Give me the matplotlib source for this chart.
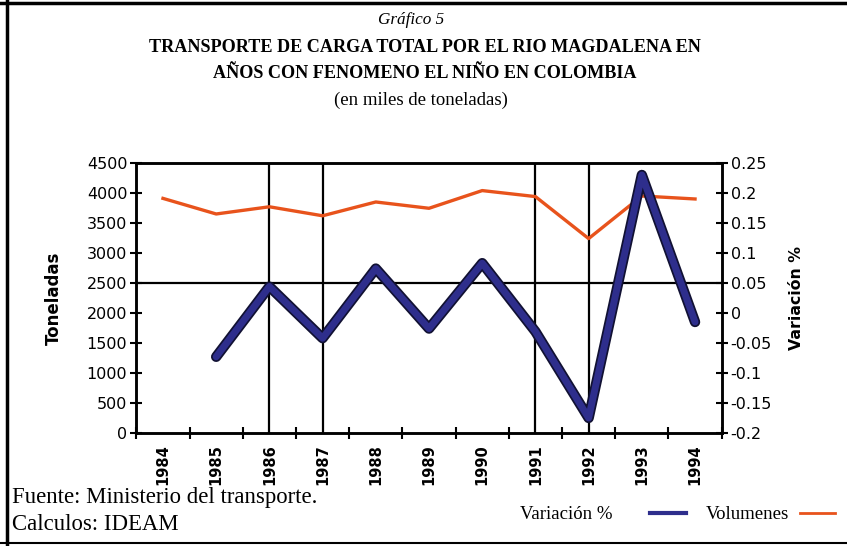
import matplotlib
matplotlib.use("Agg")
import matplotlib.pyplot as plt
from matplotlib.lines import Line2D

years = ["1984", "1985", "1986", "1987", "1988", "1989",
         "1990", "1991", "1992", "1993", "1994"]
volumenes = [3910, 3650, 3770, 3620, 3850, 3745, 4040, 3940, 3240, 3950, 3900]
variacion = [None, -0.073, 0.044, -0.042, 0.074, -0.026, 0.083, -0.031,
             -0.175, 0.230, -0.015]
nino_years = ["1986", "1987", "1991", "1992"]
ref_level = 2500

serif = "Liberation Serif"
sans = "DejaVu Sans"
blue = "#2e2e8c"
orange = "#e8531c"

fig = plt.figure(figsize=(8.47, 5.46), dpi=100)
ax = fig.add_axes([0.161, 0.207, 0.691, 0.4945])
ax2 = ax.twinx()

x = list(range(len(years)))
ax.plot(x, volumenes, color=orange, lw=2.4, zorder=4)

vx = [i for i, v in zip(x, variacion) if v is not None]
vy = [v for v in variacion if v is not None]
ax2.plot(vx, vy, color="#111133", lw=7.5, solid_capstyle="round",
         solid_joinstyle="round", zorder=3)
ax2.plot(vx, vy, color=blue, lw=5, solid_capstyle="round",
         solid_joinstyle="round", zorder=4)

for yr in nino_years:
    ax.axvline(years.index(yr), color="black", lw=1.6, zorder=2)
ax.axhline(ref_level, color="black", lw=1.6, zorder=2)

ax.set_xlim(-0.5, len(years) - 0.5)
ax.set_ylim(0, 4500)
ax.set_yticks(range(0, 4501, 500))
ax2.set_ylim(-0.2, 0.25)
ax2.set_yticks([-0.2, -0.15, -0.1, -0.05, 0, 0.05, 0.1, 0.15, 0.2, 0.25])
ax2.set_yticklabels(["-0.2", "-0.15", "-0.1", "-0.05", "0", "0.05", "0.1",
                     "0.15", "0.2", "0.25"])

ax.set_xticks([i - 0.5 for i in range(len(years) + 1)])
ax.set_xticklabels([])
ax.set_xticks(x, minor=True)
ax.set_xticklabels(years, minor=True, rotation=90, fontsize=10.5,
                   fontweight="bold", family=sans)
ax.tick_params(axis="x", which="minor", length=0, pad=8)
ax.tick_params(axis="x", which="major", direction="inout", length=9, width=1.5)
ax.tick_params(axis="y", direction="inout", length=9, width=1.5,
               labelsize=11.5, pad=2)
ax2.tick_params(axis="y", direction="inout", length=9, width=1.5,
                labelsize=11.5, pad=2)
for lab in ax.get_yticklabels() + ax2.get_yticklabels():
    lab.set_family(sans)

for a in (ax, ax2):
    for s in a.spines.values():
        s.set_linewidth(1.8)

ax.set_ylabel("Toneladas", fontsize=12, fontweight="bold", family=sans)
ax.yaxis.set_label_coords(-0.125, 0.5)
ax2.set_ylabel("Variación %", fontsize=11.3, fontweight="bold", family=sans)
ax2.yaxis.set_label_coords(1.115, 0.5)

# titles
fig.text(0.485, 0.963, "Gráfico 5", ha="center", va="center", fontsize=12.3,
         style="italic", family=serif)
fig.text(0.502, 0.913, "TRANSPORTE DE CARGA TOTAL POR EL RIO MAGDALENA EN",
         ha="center", va="center", fontsize=13.1, fontweight="bold", family=serif)
fig.text(0.502, 0.865, "AÑOS CON FENOMENO EL NIÑO EN COLOMBIA",
         ha="center", va="center", fontsize=13.1, fontweight="bold", family=serif)
fig.text(0.497, 0.817, "(en miles de toneladas)", ha="center", va="center",
         fontsize=13.5, family=serif)

fig.text(0.014, 0.088, "Fuente: Ministerio del transporte.", ha="left",
         va="center", fontsize=16.4, family=serif)
fig.text(0.014, 0.040, "Calculos: IDEAM", ha="left", va="center",
         fontsize=16.4, family=serif)

leg1 = fig.legend([Line2D([], [], color=blue, lw=3)], ["Variación %"],
                  markerfirst=False, loc="center left",
                  bbox_to_anchor=(0.614, 0.057), frameon=False,
                  handlelength=1.9, handletextpad=2.0, borderpad=0,
                  borderaxespad=0, prop={"family": serif, "size": 13.5})
leg2 = fig.legend([Line2D([], [], color=orange, lw=2)], ["Volumenes"],
                  markerfirst=False, loc="center left",
                  bbox_to_anchor=(0.8335, 0.057), frameon=False,
                  handlelength=1.9, handletextpad=0.55, borderpad=0,
                  borderaxespad=0, prop={"family": serif, "size": 13.5})

# outer frame (top, left, bottom)
fig.add_artist(Line2D([0.0, 1.0], [0.994, 0.994], transform=fig.transFigure,
                      color="black", lw=2.5))
fig.add_artist(Line2D([0.008, 0.008], [0.0, 1.0], transform=fig.transFigure,
                      color="black", lw=2.5))
fig.add_artist(Line2D([0.0, 1.0], [0.006, 0.006], transform=fig.transFigure,
                      color="black", lw=1.5))

fig.savefig("out.png", dpi=100, facecolor="white")
